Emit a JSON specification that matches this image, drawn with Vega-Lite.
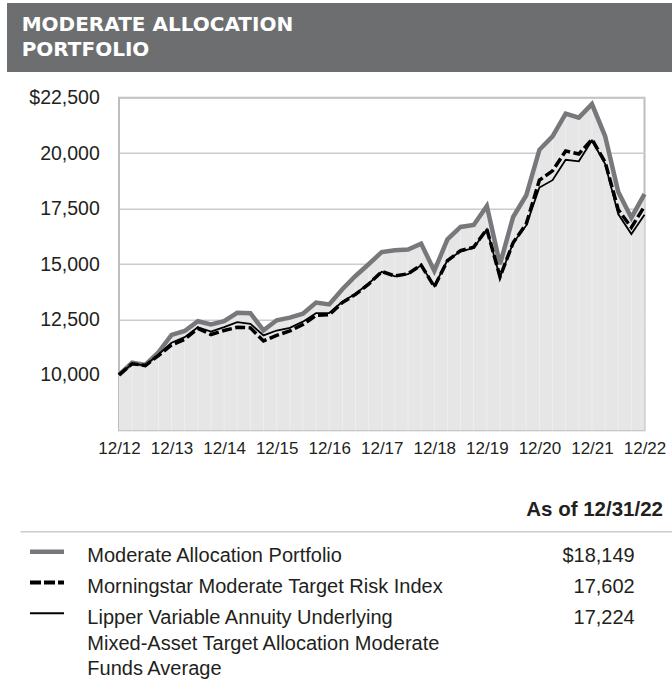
{
  "$schema": "https://vega.github.io/schema/vega-lite/v6.json",
  "background": "white",
  "padding": {"left": 7, "top": 3, "right": 0, "bottom": 0},
  "spacing": 14.7,
  "config": {"font": "Liberation Sans"},
  "vconcat": [
    {
      "width": 665,
      "height": 69,
      "view": {"fill": "#6d6e70", "stroke": null},
      "data": {"values": [{"line": "MODERATE ALLOCATION"}, {"line": "PORTFOLIO"}]},
      "mark": {"type": "text", "align": "left", "baseline": "alphabetic", "color": "#ffffff", "font": "DejaVu Sans", "fontSize": 20, "fontWeight": "bold"},
      "encoding": {
        "x": {"datum": 0.0221, "type": "quantitative", "scale": {"domain": [0, 1], "nice": false, "zero": false}, "axis": null},
        "y": {"field": "line", "type": "nominal", "scale": {"type": "point", "domain": ["MODERATE ALLOCATION", "PORTFOLIO"], "range": [28.2, 52.5], "padding": 0}, "axis": null},
        "text": {"field": "line"}
      }
    },
    {
      "hconcat": [
        {
          "width": 112,
          "height": 10,
          "view": {"stroke": null},
          "data": {"values": [{}]},
          "mark": {"type": "rect", "opacity": 0}
        },
        {
          "width": 525.5,
          "height": 332.6,
          "view": {"stroke": "#bdbdbd", "strokeWidth": 2},
          "data": {"values": [
            {"d":"2012-12","s":"Portfolio","v":10000},{"d":"2012-12","s":"Morningstar","v":10000},{"d":"2012-12","s":"Lipper","v":10000},
            {"d":"2013-03","s":"Portfolio","v":10550},{"d":"2013-03","s":"Morningstar","v":10500},{"d":"2013-03","s":"Lipper","v":10500},
            {"d":"2013-06","s":"Portfolio","v":10450},{"d":"2013-06","s":"Morningstar","v":10420},{"d":"2013-06","s":"Lipper","v":10430},
            {"d":"2013-09","s":"Portfolio","v":11020},{"d":"2013-09","s":"Morningstar","v":10870},{"d":"2013-09","s":"Lipper","v":10920},
            {"d":"2013-12","s":"Portfolio","v":11800},{"d":"2013-12","s":"Morningstar","v":11350},{"d":"2013-12","s":"Lipper","v":11450},
            {"d":"2014-03","s":"Portfolio","v":11980},{"d":"2014-03","s":"Morningstar","v":11600},{"d":"2014-03","s":"Lipper","v":11700},
            {"d":"2014-06","s":"Portfolio","v":12420},{"d":"2014-06","s":"Morningstar","v":12100},{"d":"2014-06","s":"Lipper","v":12150},
            {"d":"2014-09","s":"Portfolio","v":12270},{"d":"2014-09","s":"Morningstar","v":11820},{"d":"2014-09","s":"Lipper","v":11950},
            {"d":"2014-12","s":"Portfolio","v":12420},{"d":"2014-12","s":"Morningstar","v":12000},{"d":"2014-12","s":"Lipper","v":12150},
            {"d":"2015-03","s":"Portfolio","v":12800},{"d":"2015-03","s":"Morningstar","v":12150},{"d":"2015-03","s":"Lipper","v":12380},
            {"d":"2015-06","s":"Portfolio","v":12780},{"d":"2015-06","s":"Morningstar","v":12120},{"d":"2015-06","s":"Lipper","v":12300},
            {"d":"2015-09","s":"Portfolio","v":12010},{"d":"2015-09","s":"Morningstar","v":11530},{"d":"2015-09","s":"Lipper","v":11780},
            {"d":"2015-12","s":"Portfolio","v":12460},{"d":"2015-12","s":"Morningstar","v":11780},{"d":"2015-12","s":"Lipper","v":12000},
            {"d":"2016-03","s":"Portfolio","v":12580},{"d":"2016-03","s":"Morningstar","v":11980},{"d":"2016-03","s":"Lipper","v":12120},
            {"d":"2016-06","s":"Portfolio","v":12760},{"d":"2016-06","s":"Morningstar","v":12270},{"d":"2016-06","s":"Lipper","v":12400},
            {"d":"2016-09","s":"Portfolio","v":13260},{"d":"2016-09","s":"Morningstar","v":12680},{"d":"2016-09","s":"Lipper","v":12780},
            {"d":"2016-12","s":"Portfolio","v":13180},{"d":"2016-12","s":"Morningstar","v":12710},{"d":"2016-12","s":"Lipper","v":12790},
            {"d":"2017-03","s":"Portfolio","v":13860},{"d":"2017-03","s":"Morningstar","v":13260},{"d":"2017-03","s":"Lipper","v":13300},
            {"d":"2017-06","s":"Portfolio","v":14460},{"d":"2017-06","s":"Morningstar","v":13630},{"d":"2017-06","s":"Lipper","v":13660},
            {"d":"2017-09","s":"Portfolio","v":14990},{"d":"2017-09","s":"Morningstar","v":14090},{"d":"2017-09","s":"Lipper","v":14120},
            {"d":"2017-12","s":"Portfolio","v":15540},{"d":"2017-12","s":"Morningstar","v":14660},{"d":"2017-12","s":"Lipper","v":14650},
            {"d":"2018-03","s":"Portfolio","v":15620},{"d":"2018-03","s":"Morningstar","v":14460},{"d":"2018-03","s":"Lipper","v":14440},
            {"d":"2018-06","s":"Portfolio","v":15650},{"d":"2018-06","s":"Morningstar","v":14560},{"d":"2018-06","s":"Lipper","v":14540},
            {"d":"2018-09","s":"Portfolio","v":15920},{"d":"2018-09","s":"Morningstar","v":14950},{"d":"2018-09","s":"Lipper","v":14940},
            {"d":"2018-12","s":"Portfolio","v":14690},{"d":"2018-12","s":"Morningstar","v":13970},{"d":"2018-12","s":"Lipper","v":14000},
            {"d":"2019-03","s":"Portfolio","v":16110},{"d":"2019-03","s":"Morningstar","v":15150},{"d":"2019-03","s":"Lipper","v":15170},
            {"d":"2019-06","s":"Portfolio","v":16670},{"d":"2019-06","s":"Morningstar","v":15600},{"d":"2019-06","s":"Lipper","v":15570},
            {"d":"2019-09","s":"Portfolio","v":16760},{"d":"2019-09","s":"Morningstar","v":15760},{"d":"2019-09","s":"Lipper","v":15720},
            {"d":"2019-12","s":"Portfolio","v":17620},{"d":"2019-12","s":"Morningstar","v":16570},{"d":"2019-12","s":"Lipper","v":16560},
            {"d":"2020-03","s":"Portfolio","v":14990},{"d":"2020-03","s":"Morningstar","v":14420},{"d":"2020-03","s":"Lipper","v":14400},
            {"d":"2020-06","s":"Portfolio","v":17120},{"d":"2020-06","s":"Morningstar","v":15960},{"d":"2020-06","s":"Lipper","v":15950},
            {"d":"2020-09","s":"Portfolio","v":18100},{"d":"2020-09","s":"Morningstar","v":16810},{"d":"2020-09","s":"Lipper","v":16740},
            {"d":"2020-12","s":"Portfolio","v":20150},{"d":"2020-12","s":"Morningstar","v":18780},{"d":"2020-12","s":"Lipper","v":18450},
            {"d":"2021-03","s":"Portfolio","v":20760},{"d":"2021-03","s":"Morningstar","v":19200},{"d":"2021-03","s":"Lipper","v":18780},
            {"d":"2021-06","s":"Portfolio","v":21780},{"d":"2021-06","s":"Morningstar","v":20100},{"d":"2021-06","s":"Lipper","v":19700},
            {"d":"2021-09","s":"Portfolio","v":21600},{"d":"2021-09","s":"Morningstar","v":19960},{"d":"2021-09","s":"Lipper","v":19630},
            {"d":"2021-12","s":"Portfolio","v":22210},{"d":"2021-12","s":"Morningstar","v":20620},{"d":"2021-12","s":"Lipper","v":20570},
            {"d":"2022-03","s":"Portfolio","v":20770},{"d":"2022-03","s":"Morningstar","v":19600},{"d":"2022-03","s":"Lipper","v":19520},
            {"d":"2022-06","s":"Portfolio","v":18260},{"d":"2022-06","s":"Morningstar","v":17450},{"d":"2022-06","s":"Lipper","v":17250},
            {"d":"2022-09","s":"Portfolio","v":17090},{"d":"2022-09","s":"Morningstar","v":16650},{"d":"2022-09","s":"Lipper","v":16350},
            {"d":"2022-12","s":"Portfolio","v":18149},{"d":"2022-12","s":"Morningstar","v":17602},{"d":"2022-12","s":"Lipper","v":17224}
          ]},
          "encoding": {
            "x": {
              "field": "d",
              "type": "ordinal",
              "scale": {"type": "point", "padding": 0},
              "axis": {
                "values": ["2012-12","2013-12","2014-12","2015-12","2016-12","2017-12","2018-12","2019-12","2020-12","2021-12","2022-12"],
                "labelExpr": "substring(datum.value, 5, 7) + '/' + substring(datum.value, 2, 4)",
                "title": null,
                "ticks": false,
                "tickSize": 0,
                "domain": false,
                "grid": false,
                "labelAngle": 0,
                "labelOverlap": false,
                "labelFontSize": 17,
                "labelPadding": 10,
                "labelColor": "#231f20"
              }
            }
          },
          "layer": [
            {
              "transform": [{"filter": "datum.s === 'Portfolio'"}],
              "mark": {"type": "area", "color": "#e6e6e6"},
              "encoding": {
                "y": {
                  "field": "v",
                  "type": "quantitative",
                  "scale": {"domain": [7500, 22500], "nice": false, "zero": false},
                  "axis": {
                    "values": [10000, 12500, 15000, 17500, 20000, 22500],
                    "labelExpr": "datum.value == 22500 ? '$22,500' : format(datum.value, ',')",
                    "title": null,
                    "ticks": false,
                    "tickSize": 0,
                    "domain": false,
                    "grid": true,
                    "gridColor": "#cccccc",
                    "gridWidth": 1.5,
                    "labelFontSize": 19.5,
                    "labelPadding": 19.7,
                    "labelColor": "#231f20"
                  }
                },
                "y2": {"datum": 7500}
              }
            },
            {
              "transform": [{"filter": "datum.s === 'Portfolio' && datum.d !== '2012-12' && datum.d !== '2022-12'"}],
              "mark": {"type": "rule", "color": "#ffffff", "strokeWidth": 0.8, "opacity": 0.45},
              "encoding": {
                "y": {"field": "v", "type": "quantitative"},
                "y2": {"datum": 7500}
              }
            },
            {
              "transform": [{"filter": "datum.s === 'Portfolio'"}],
              "mark": {"type": "line", "color": "#77787b", "strokeWidth": 4.5},
              "encoding": {"y": {"field": "v", "type": "quantitative"}}
            },
            {
              "transform": [{"filter": "datum.s === 'Lipper'"}],
              "mark": {"type": "line", "color": "#000000", "strokeWidth": 1.8},
              "encoding": {"y": {"field": "v", "type": "quantitative"}}
            },
            {
              "transform": [{"filter": "datum.s === 'Morningstar'"}],
              "mark": {"type": "line", "color": "#000000", "strokeWidth": 3.5, "strokeDash": [10, 3.5]},
              "encoding": {"y": {"field": "v", "type": "quantitative"}}
            }
          ]
        }
      ],
      "spacing": 0,
      "bounds": "flush"
    },
    {
      "width": 665,
      "height": 208.6,
      "view": {"stroke": null},
      "data": {"values": [
        {"s": "Portfolio", "label": "Moderate Allocation Portfolio", "val": "$18,149"},
        {"s": "Morningstar", "label": "Morningstar Moderate Target Risk Index", "val": "17,602"},
        {"s": "Lipper", "label": "Lipper Variable Annuity Underlying\nMixed-Asset Target Allocation Moderate\nFunds Average", "val": "17,224"}
      ]},
      "resolve": {"scale": {"y": "independent"}},
      "layer": [
        {
          "data": {"values": [{"t": "As of 12/31/22"}]},
          "mark": {"type": "text", "align": "right", "baseline": "alphabetic", "fontSize": 20.5, "fontWeight": "bold", "color": "#231f20"},
          "encoding": {
            "x": {"datum": 0.9865, "type": "quantitative", "scale": {"domain": [0, 1], "nice": false, "zero": false}, "axis": null},
            "y": {"datum": 0.209, "type": "quantitative", "scale": {"domain": [0, 1], "reverse": true, "nice": false, "zero": false}, "axis": null},
            "text": {"field": "t"}
          }
        },
        {
          "data": {"values": [{"t": "sep"}]},
          "mark": {"type": "rule", "color": "#cccccc", "strokeWidth": 1.5},
          "encoding": {
            "x": {"datum": 0.0206, "type": "quantitative"},
            "x2": {"datum": 1},
            "y": {"datum": 0.2843, "type": "quantitative", "scale": {"domain": [0, 1], "reverse": true, "nice": false, "zero": false}, "axis": null}
          }
        },
        {
          "transform": [{"filter": "datum.s === 'Portfolio'"}],
          "mark": {"type": "rule", "color": "#77787b", "strokeWidth": 4.5},
          "encoding": {
            "x": {"datum": 0.0346, "type": "quantitative"},
            "x2": {"datum": 0.0857},
            "y": {"field": "s", "type": "nominal", "scale": {"type": "point", "domain": ["Portfolio", "Morningstar", "Lipper"], "range": [79.3, 140.9], "padding": 0}, "axis": null}
          }
        },
        {
          "transform": [{"filter": "datum.s === 'Morningstar'"}],
          "mark": {"type": "rule", "color": "#000000", "strokeWidth": 4, "strokeDash": [11, 3]},
          "encoding": {
            "x": {"datum": 0.0346, "type": "quantitative"},
            "x2": {"datum": 0.0857},
            "y": {"field": "s", "type": "nominal", "scale": {"type": "point", "domain": ["Portfolio", "Morningstar", "Lipper"], "range": [79.3, 140.9], "padding": 0}, "axis": null}
          }
        },
        {
          "transform": [{"filter": "datum.s === 'Lipper'"}],
          "mark": {"type": "rule", "color": "#000000", "strokeWidth": 2},
          "encoding": {
            "x": {"datum": 0.0346, "type": "quantitative"},
            "x2": {"datum": 0.0857},
            "y": {"field": "s", "type": "nominal", "scale": {"type": "point", "domain": ["Portfolio", "Morningstar", "Lipper"], "range": [79.3, 140.9], "padding": 0}, "axis": null}
          }
        },
        {
          "mark": {"type": "text", "align": "left", "baseline": "alphabetic", "fontSize": 20, "lineHeight": 25.6, "lineBreak": "\n", "color": "#231f20"},
          "encoding": {
            "x": {"datum": 0.1208, "type": "quantitative"},
            "y": {"field": "s", "type": "nominal", "scale": {"type": "point", "domain": ["Portfolio", "Morningstar", "Lipper"], "range": [89.9, 151.9], "padding": 0}, "axis": null},
            "text": {"field": "label"}
          }
        },
        {
          "mark": {"type": "text", "align": "right", "baseline": "alphabetic", "fontSize": 20, "color": "#231f20"},
          "encoding": {
            "x": {"datum": 0.9439, "type": "quantitative"},
            "y": {"field": "s", "type": "nominal", "scale": {"type": "point", "domain": ["Portfolio", "Morningstar", "Lipper"], "range": [89.9, 151.9], "padding": 0}, "axis": null},
            "text": {"field": "val"}
          }
        }
      ]
    }
  ]
}
